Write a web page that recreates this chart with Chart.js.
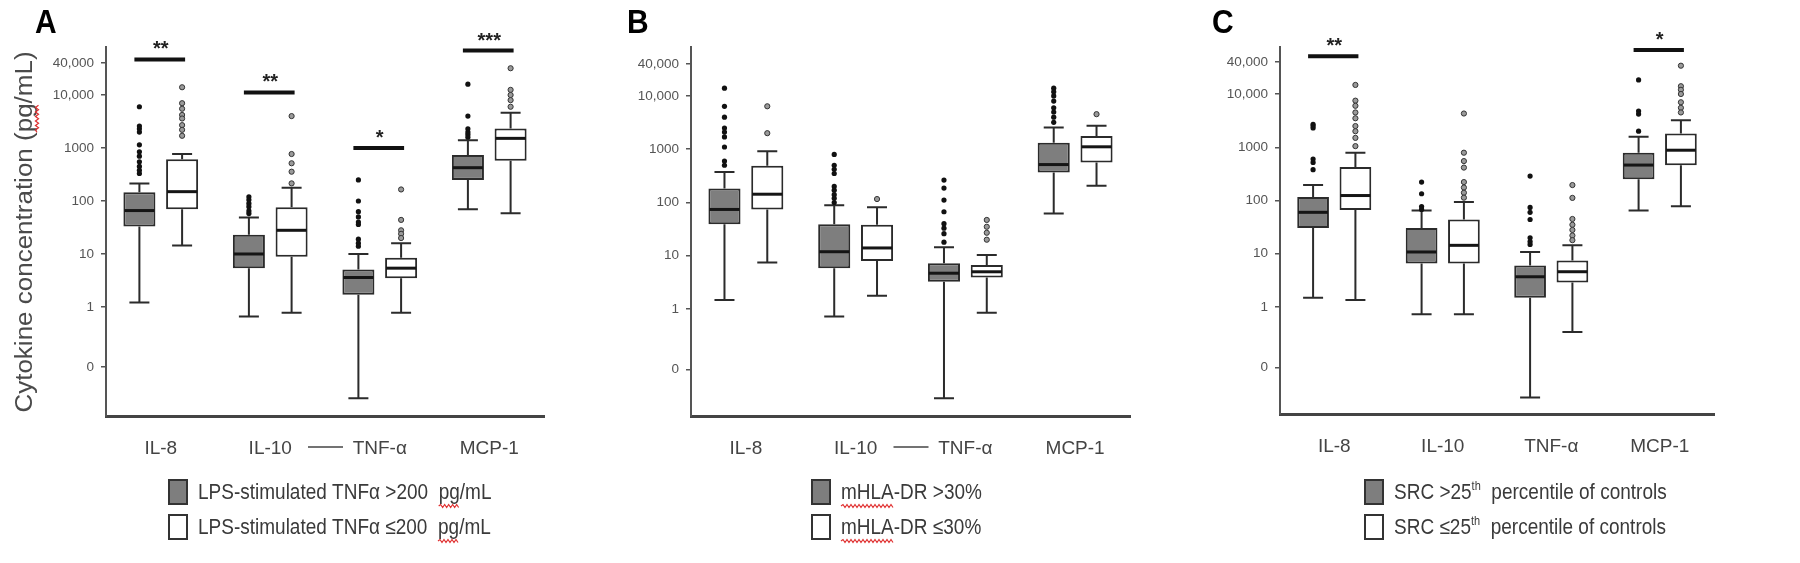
<!DOCTYPE html>
<html>
<head>
<meta charset="utf-8">
<script src="https://cdn.jsdelivr.net/npm/chart.js@4.4.0/dist/chart.umd.min.js"></script>
<style>
html,body{margin:0;padding:0;background:#fff;width:1800px;height:563px;overflow:hidden}
.panel{position:absolute;top:0;width:600px;height:563px}
canvas{display:block}
</style>
</head>
<body>
<div class="panel" style="left:0px"><canvas id="cA" width="600" height="563"></canvas></div>
<div class="panel" style="left:600px"><canvas id="cB" width="600" height="563"></canvas></div>
<div class="panel" style="left:1200px"><canvas id="cC" width="600" height="563"></canvas></div>
<script>
// ---------------- DATA ----------------
const categories = ['IL-8', 'IL-10', 'TNF-α', 'MCP-1'];
const yTickValues = [0.073, 1, 10, 100, 1000, 10000, 40000];
const yTickLabels = ['0', '1', '10', '100', '1000', '10,000', '40,000'];
const yAxisTitle = 'Cytokine concentration (pg/mL)';

// Panel A
const aLegend = ['LPS-stimulated TNFα >200  pg/mL', 'LPS-stimulated TNFα ≤200  pg/mL'];
const aGrayMin = [1.22, 0.66, 0.019, 70];
const aGrayQ1  = [33, 5.4, 1.7, 250];
const aGrayMed = [66, 10, 3.6, 425];
const aGrayQ3  = [146, 23, 5.1, 740];
const aGrayMax = [215, 49, 10, 1400];
const aGrayOut = [
  [6000, 2600, 2300, 2000, 1150, 850, 700, 550, 450, 380, 330],
  [120, 105, 90, 78, 65, 58],
  [250, 100, 63, 50, 40, 36, 19, 16, 14],
  [16000, 4000, 2300, 2000, 1800, 1600]
];
const aWhiteMin = [14.4, 0.78, 0.78, 59];
const aWhiteQ1  = [70, 8.9, 3.5, 575];
const aWhiteMed = [150, 28, 5.4, 1520];
const aWhiteQ3  = [611, 76, 8.5, 2340];
const aWhiteMax = [770, 178, 16, 4640];
const aWhiteOut = [
  [14000, 7000, 5500, 4200, 3600, 2700, 2200, 1700],
  [4000, 770, 515, 357, 215],
  [165, 44, 28, 24, 20],
  [32000, 12500, 10000, 8000, 6000]
];
const aSigIndex = [0, 1, 2, 3];
const aSigStars = ['**', '**', '*', '***'];
const aSigLevel = [47000, 11200, 1000, 69000];

// Panel B
const bLegend = ['mHLA-DR >30%', 'mHLA-DR ≤30%'];
const bGrayMin = [1.47, 0.72, 0.021, 62];
const bGrayQ1  = [39, 5.8, 3.25, 367];
const bGrayMed = [74, 11.9, 4.7, 515];
const bGrayQ3  = [183, 39, 7.2, 1320];
const bGrayMax = [375, 89, 14.4, 2560];
const bGrayOut = [
  [14000, 6400, 4000, 2500, 2100, 1700, 1100, 600, 500],
  [800, 500, 420, 350, 200, 170, 140, 120, 100],
  [263, 186, 111, 67, 40, 33, 26, 18],
  [14000, 12000, 10000, 8000, 6000, 5000, 4000, 3200]
];
const bWhiteMin = [7.5, 1.78, 0.85, 205];
const bWhiteQ1  = [74, 8, 3.9, 565];
const bWhiteMed = [143, 14, 5.0, 1110];
const bWhiteQ3  = [490, 38, 6.7, 1770];
const bWhiteMax = [920, 81, 10.3, 2750];
const bWhiteOut = [
  [6400, 2000],
  [116],
  [47, 35, 27, 20],
  [4550]
];
const bSigIndex = [];
const bSigStars = [];
const bSigLevel = [];

// Panel C
const cLegend = ['SRC >25th  percentile of controls', 'SRC ≤25th  percentile of controls'];
const cGrayMin = [1.5, 0.73, 0.02, 65];
const cGrayQ1  = [30.5, 6.6, 1.5, 250];
const cGrayMed = [60, 10.8, 3.7, 463];
const cGrayQ3  = [117, 30.5, 6.0, 790];
const cGrayMax = [195, 65, 10.8, 1570];
const cGrayOut = [
  [2700, 2500, 2300, 600, 520, 380],
  [222, 134, 77, 68],
  [288, 74, 60, 44, 20, 17, 15],
  [18400, 4800, 4200, 2000]
];
const cWhiteMin = [1.35, 0.73, 0.34, 78];
const cWhiteQ1  = [66, 6.6, 2.9, 457];
const cWhiteMed = [124, 14.4, 4.6, 880];
const cWhiteQ3  = [425, 44, 7.5, 1810];
const cWhiteMax = [790, 94, 14.4, 3230];
const cWhiteOut = [
  [14800, 7500, 6000, 4500, 3500, 2500, 2000, 1500, 1050],
  [4300, 790, 550, 415, 222, 175, 140, 113],
  [195, 112, 45, 35, 28, 22, 18],
  [34000, 14000, 12000, 10000, 7000, 5500, 4500]
];
const cSigIndex = [0, 3];
const cSigStars = ['**', '*'];
const cSigLevel = [51000, 67000];

// ---------------- RENDERING ----------------
const FONT = "'Liberation Sans', Arial, sans-serif";
Chart.defaults.font.family = FONT;

function squiggle(ctx, x0, x1, y) {
  ctx.save();
  ctx.strokeStyle = '#e03030';
  ctx.lineWidth = 1.2;
  ctx.beginPath();
  let up = true;
  ctx.moveTo(x0, y);
  for (let x = x0 + 2; x <= x1; x += 2) {
    ctx.lineTo(x, up ? y - 1.5 : y + 1.5);
    up = !up;
  }
  ctx.stroke();
  ctx.restore();
}

function makePlugin(p) {
  return {
    id: 'boxplotExtras',
    afterDatasetsDraw(chart) {
      const ctx = chart.ctx;
      const ys = chart.scales.y;
      chart.data.datasets.forEach((ds, d) => {
        const meta = chart.getDatasetMeta(d);
        const st = ds.stats;
        meta.data.forEach((bar, i) => {
          const x = bar.x, hw = bar.width / 2;
          ctx.save();
          ctx.strokeStyle = '#2b2b2b';
          ctx.lineWidth = 2;
          ctx.beginPath();
          ctx.moveTo(x, ys.getPixelForValue(st.q3[i]));
          ctx.lineTo(x, ys.getPixelForValue(st.max[i]));
          ctx.moveTo(x - 10, ys.getPixelForValue(st.max[i]));
          ctx.lineTo(x + 10, ys.getPixelForValue(st.max[i]));
          ctx.moveTo(x, ys.getPixelForValue(st.q1[i]));
          ctx.lineTo(x, ys.getPixelForValue(st.min[i]));
          ctx.moveTo(x - 10, ys.getPixelForValue(st.min[i]));
          ctx.lineTo(x + 10, ys.getPixelForValue(st.min[i]));
          ctx.stroke();
          ctx.strokeStyle = '#151515';
          ctx.lineWidth = 3;
          ctx.beginPath();
          ctx.moveTo(x - hw + 1, ys.getPixelForValue(st.med[i]));
          ctx.lineTo(x + hw - 1, ys.getPixelForValue(st.med[i]));
          ctx.stroke();
          st.out[i].forEach(v => {
            ctx.beginPath();
            ctx.arc(x, ys.getPixelForValue(v), 2.6, 0, Math.PI * 2);
            ctx.fillStyle = ds.outFill;
            ctx.fill();
            if (ds.outStroke) {
              ctx.strokeStyle = ds.outStroke;
              ctx.lineWidth = 1;
              ctx.stroke();
            }
          });
          ctx.restore();
        });
      });
    },
    afterDraw(chart) {
      const ctx = chart.ctx;
      const ys = chart.scales.y, xs = chart.scales.x;
      const m0 = chart.getDatasetMeta(0), m1 = chart.getDatasetMeta(1);
      ctx.save();
      // significance bars
      p.sigIndex.forEach((ci, k) => {
        const xg = m0.data[ci].x, xw = m1.data[ci].x;
        const yb = ys.getPixelForValue(p.sigLevel[k]);
        ctx.strokeStyle = '#111';
        ctx.lineWidth = 4;
        ctx.beginPath();
        ctx.moveTo(xg - 5, yb);
        ctx.lineTo(xw + 3, yb);
        ctx.stroke();
        ctx.fillStyle = '#222';
        ctx.font = 'bold 20px ' + FONT;
        ctx.textAlign = 'center';
        ctx.textBaseline = 'alphabetic';
        ctx.fillText(p.sigStars[k], (xg + xw) / 2, yb - 4);
      });
      // small dash between IL-10 and TNF-α labels
      if (p.dash) {
        const xm = (xs.getPixelForValue(1) + xs.getPixelForValue(2)) / 2;
        ctx.strokeStyle = '#444';
        ctx.lineWidth = 1.5;
        ctx.beginPath();
        ctx.moveTo(xm - 17, chart.chartArea.bottom + 31);
        ctx.lineTo(xm + 18, chart.chartArea.bottom + 31);
        ctx.stroke();
      }
      // panel letter
      ctx.save();
      ctx.fillStyle = '#000';
      ctx.font = 'bold 30px ' + FONT;
      ctx.textAlign = 'left';
      ctx.textBaseline = 'alphabetic';
      ctx.translate(p.letterX, 33);
      ctx.scale(1, 1.08);
      ctx.fillText(p.letter, 0, 0);
      ctx.restore();
      // y title
      if (p.yTitle) {
        ctx.save();
        ctx.translate(26, 232);
        ctx.rotate(-Math.PI / 2);
        ctx.scale(1.13, 1);
        ctx.font = '23px ' + FONT;
        ctx.fillStyle = '#4a4a4a';
        ctx.textAlign = 'left';
        ctx.textBaseline = 'middle';
        const w = ctx.measureText(p.yTitle).width;
        ctx.fillText(p.yTitle, -w / 2, 0);
        const idx = p.yTitle.indexOf('pg');
        const sx = -w / 2 + ctx.measureText(p.yTitle.slice(0, idx)).width;
        const sw = ctx.measureText('pg').width;
        squiggle(ctx, sx, sx + sw, 11);
        ctx.restore();
      }
      // legend
      chart.data.datasets.forEach((ds, d) => {
        const cy = p.legY[d];
        ctx.fillStyle = ds.backgroundColor;
        ctx.fillRect(p.legX, cy - 12, 18, 24);
        ctx.strokeStyle = '#333';
        ctx.lineWidth = 2;
        ctx.strokeRect(p.legX, cy - 12, 18, 24);
        ctx.save();
        ctx.translate(p.legX + 29, cy + 1);
        ctx.scale(1, 1.15);
        ctx.fillStyle = '#3a3a3a';
        ctx.textBaseline = 'middle';
        ctx.textAlign = 'left';
        let x = 0;
        const label = ds.label;
        const mm = label.match(/^(.*\d)(th)(.*)$/);
        const parts = mm ? [[mm[1], false], [mm[2], true], [mm[3], false]] : [[label, false]];
        parts.forEach(([t, sup]) => {
          ctx.font = (sup ? '11px ' : '19px ') + FONT;
          ctx.fillText(t, x, sup ? -6 : 0);
          x += ctx.measureText(t).width;
        });
        ctx.restore();
        if (p.squig) {
          ctx.font = '19px ' + FONT;
          const idx = label.indexOf(p.squig);
          if (idx >= 0) {
            const sx = p.legX + 29 + ctx.measureText(label.slice(0, idx)).width;
            const sw = ctx.measureText(p.squig).width;
            squiggle(ctx, sx, sx + sw, cy + 14);
          }
        }
      });
      ctx.restore();
    }
  };
}

function makePanel(id, p) {
  const datasets = [
    {
      label: p.legend[0],
      data: categories.map((c, i) => [p.gray.q1[i], p.gray.q3[i]]),
      backgroundColor: '#7e7e7e', borderColor: '#2b2b2b', borderWidth: 2, borderSkipped: false,
      stats: p.gray, outFill: '#111'
    },
    {
      label: p.legend[1],
      data: categories.map((c, i) => [p.white.q1[i], p.white.q3[i]]),
      backgroundColor: '#ffffff', borderColor: '#2b2b2b', borderWidth: 2, borderSkipped: false,
      stats: p.white, outFill: '#9a9a9a', outStroke: '#333'
    }
  ];
  new Chart(document.getElementById(id), {
    type: 'bar',
    data: { labels: categories, datasets },
    options: {
      responsive: false, animation: false, devicePixelRatio: 1,
      layout: { padding: { left: 0, top: p.top, right: 600 - p.right, bottom: 0 } },
      plugins: { legend: { display: false }, tooltip: { enabled: false } },
      datasets: { bar: { categoryPercentage: 0.78, barPercentage: 0.75 } },
      scales: {
        x: {
          type: 'category', offset: true,
          grid: { display: false, drawTicks: false },
          border: { display: true, color: '#444', width: 3 },
          ticks: { font: { size: 19 }, color: '#444', padding: 21 },
          afterFit(s) { s.height = 563 - p.bottom; }
        },
        y: {
          type: 'logarithmic', min: p.yMin, max: p.yMax,
          grid: { drawOnChartArea: false, drawTicks: true, tickLength: 5, color: '#555', lineWidth: 1.5 },
          border: { display: true, color: '#555', width: 2 },
          ticks: { autoSkip: false, font: { size: 13.5 }, color: '#555', padding: 7,
                   callback: (v, i) => yTickLabels[i] },
          afterBuildTicks(s) { s.ticks = yTickValues.map(v => ({ value: v })); },
          afterFit(s) { s.width = p.axisX; }
        }
      }
    },
    plugins: [makePlugin(p)]
  });
}

makePanel('cA', {
  letter: 'A', letterX: 35, yTitle: yAxisTitle, dash: true, squig: 'pg',
  axisX: 106, right: 544, top: 47, bottom: 416, yMin: 0.00877, yMax: 80500,
  legX: 169, legY: [492, 527], legend: aLegend,
  gray: { min: aGrayMin, q1: aGrayQ1, med: aGrayMed, q3: aGrayQ3, max: aGrayMax, out: aGrayOut },
  white: { min: aWhiteMin, q1: aWhiteQ1, med: aWhiteMed, q3: aWhiteQ3, max: aWhiteMax, out: aWhiteOut },
  sigIndex: aSigIndex, sigStars: aSigStars, sigLevel: aSigLevel
});
makePanel('cB', {
  letter: 'B', letterX: 27, yTitle: null, dash: true, squig: 'mHLA',
  axisX: 91, right: 530, top: 47, bottom: 416, yMin: 0.0098, yMax: 83000,
  legX: 212, legY: [492, 527], legend: bLegend,
  gray: { min: bGrayMin, q1: bGrayQ1, med: bGrayMed, q3: bGrayQ3, max: bGrayMax, out: bGrayOut },
  white: { min: bWhiteMin, q1: bWhiteQ1, med: bWhiteMed, q3: bWhiteQ3, max: bWhiteMax, out: bWhiteOut },
  sigIndex: bSigIndex, sigStars: bSigStars, sigLevel: bSigLevel
});
makePanel('cC', {
  letter: 'C', letterX: 12, yTitle: null, dash: false, squig: null,
  axisX: 80, right: 514, top: 47, bottom: 414, yMin: 0.0098, yMax: 76300,
  legX: 165, legY: [492, 527], legend: cLegend,
  gray: { min: cGrayMin, q1: cGrayQ1, med: cGrayMed, q3: cGrayQ3, max: cGrayMax, out: cGrayOut },
  white: { min: cWhiteMin, q1: cWhiteQ1, med: cWhiteMed, q3: cWhiteQ3, max: cWhiteMax, out: cWhiteOut },
  sigIndex: cSigIndex, sigStars: cSigStars, sigLevel: cSigLevel
});
</script>
</body>
</html>
